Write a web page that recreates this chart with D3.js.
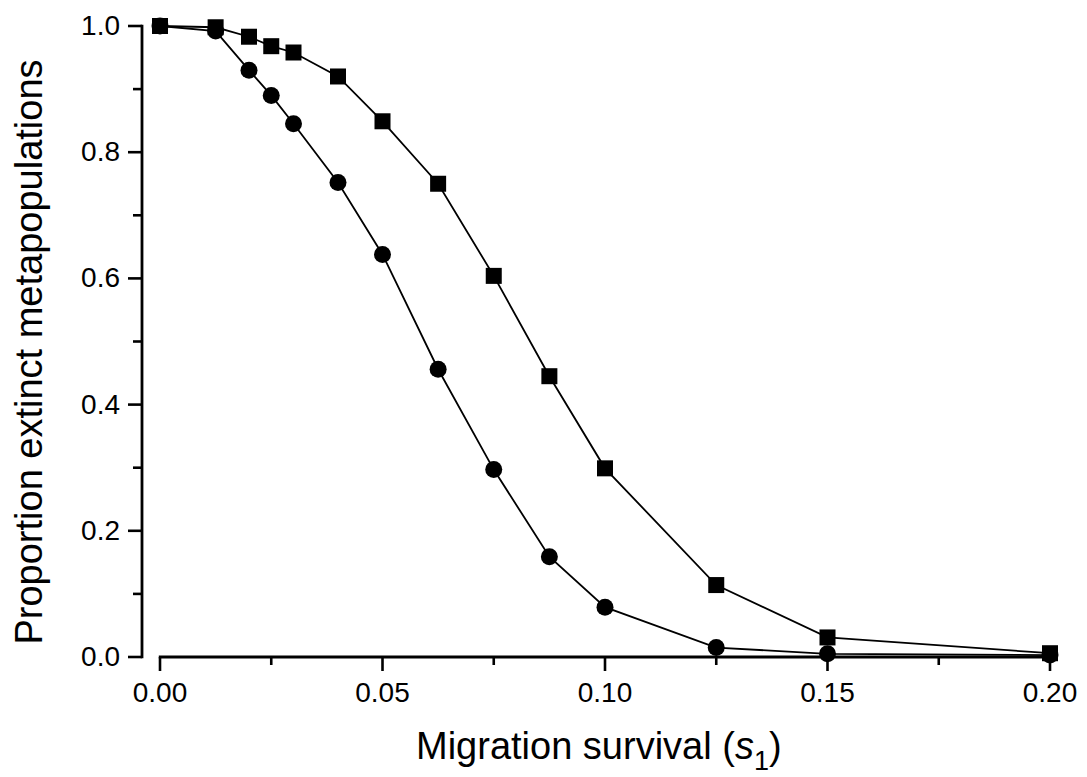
<!DOCTYPE html>
<html>
<head>
<meta charset="utf-8">
<script src="https://cdn.jsdelivr.net/npm/d3@7"></script>
<style>
  html, body { margin: 0; padding: 0; background: #fff; }
  svg { display: block; }
  text { font-family: "Liberation Sans", Arial, Helvetica, sans-serif; fill: #000; }
</style>
</head>
<body>
<svg id="chart" width="1087" height="777"></svg>
<script>
// ---- data ----
const survival = [0, 0.0125, 0.02, 0.025, 0.03, 0.04, 0.05, 0.0625, 0.075, 0.0875, 0.1, 0.125, 0.15, 0.2];
const squareSeries = [1.0, 0.998, 0.983, 0.968, 0.958, 0.920, 0.849, 0.750, 0.604, 0.445, 0.299, 0.114, 0.031, 0.006];
const circleSeries = [1.0, 0.992, 0.930, 0.890, 0.845, 0.752, 0.638, 0.456, 0.297, 0.159, 0.079, 0.015, 0.005, 0.003];
const xTicks = [0, 0.05, 0.10, 0.15, 0.20];
const xMinorTicks = [0.025, 0.075, 0.125, 0.175];
const yTicks = [0, 0.2, 0.4, 0.6, 0.8, 1.0];
const yMinorTicks = [0.1, 0.3, 0.5, 0.7, 0.9];
const xLabel = "Migration survival";
const yLabel = "Proportion extinct metapopulations";

// ---- layout ----
const svg = d3.select("#chart");
const x = d3.scaleLinear().domain([0, 0.2]).range([160, 1050]);
const y = d3.scaleLinear().domain([0, 1]).range([657, 26]);
const xAxisY = 657, yAxisX = 142;

// x axis
const gx = svg.append("g");
gx.append("line").attr("x1", x(0) - 1.2).attr("x2", x(0.2) + 2)
  .attr("y1", xAxisY).attr("y2", xAxisY)
  .attr("stroke", "#000").attr("stroke-width", 2.8);
gx.selectAll("line.maj").data(xTicks).join("line")
  .attr("x1", d => x(d)).attr("x2", d => x(d))
  .attr("y1", xAxisY).attr("y2", xAxisY + 14)
  .attr("stroke", "#000").attr("stroke-width", 2.6);
gx.selectAll("line.min").data(xMinorTicks).join("line")
  .attr("x1", d => x(d)).attr("x2", d => x(d))
  .attr("y1", xAxisY).attr("y2", xAxisY + 8)
  .attr("stroke", "#000").attr("stroke-width", 2.6);
gx.selectAll("text").data(xTicks).join("text")
  .attr("x", d => x(d)).attr("y", 702)
  .attr("text-anchor", "middle").attr("font-size", 28)
  .text(d => d3.format(".2f")(d));

// y axis
const gy = svg.append("g");
gy.append("line").attr("x1", yAxisX).attr("x2", yAxisX)
  .attr("y1", y(1) - 1.2).attr("y2", xAxisY + 1.2)
  .attr("stroke", "#000").attr("stroke-width", 2.8);
gy.selectAll("line.maj").data(yTicks).join("line")
  .attr("x1", yAxisX - 14).attr("x2", yAxisX)
  .attr("y1", d => y(d)).attr("y2", d => y(d))
  .attr("stroke", "#000").attr("stroke-width", 2.6);
gy.selectAll("line.min").data(yMinorTicks).join("line")
  .attr("x1", yAxisX - 9).attr("x2", yAxisX)
  .attr("y1", d => y(d)).attr("y2", d => y(d))
  .attr("stroke", "#000").attr("stroke-width", 2.6);
gy.selectAll("text").data(yTicks).join("text")
  .attr("x", 120).attr("y", d => y(d) + 9)
  .attr("text-anchor", "end").attr("font-size", 28)
  .text(d => d3.format(".1f")(d));

// axis titles
const xt = svg.append("text").attr("x", 416).attr("y", 759).attr("font-size", 38);
xt.append("tspan").text(xLabel + " (");
xt.append("tspan").attr("font-style", "italic").text("s");
xt.append("tspan").attr("font-size", 27).attr("dy", 11).text("1");
xt.append("tspan").attr("dy", -11).text(")");

svg.append("text")
  .attr("transform", "translate(42,352) rotate(-90)")
  .attr("text-anchor", "middle").attr("font-size", 38)
  .text(yLabel);

// series
const line = d3.line().x(d => x(d[0])).y(d => y(d[1]));
const sqData = survival.map((s, i) => [s, squareSeries[i]]);
const ciData = survival.map((s, i) => [s, circleSeries[i]]);

svg.append("path").datum(sqData).attr("d", line)
  .attr("fill", "none").attr("stroke", "#000").attr("stroke-width", 1.8);
svg.append("path").datum(ciData).attr("d", line)
  .attr("fill", "none").attr("stroke", "#000").attr("stroke-width", 1.8);

const sq = 16;
svg.selectAll("rect.sq").data(sqData).join("rect")
  .attr("x", d => x(d[0]) - sq / 2).attr("y", d => y(d[1]) - sq / 2)
  .attr("width", sq).attr("height", sq).attr("fill", "#000");
svg.selectAll("circle.ci").data(ciData).join("circle")
  .attr("cx", d => x(d[0])).attr("cy", d => y(d[1]))
  .attr("r", 8.5).attr("fill", "#000");
</script>
</body>
</html>
